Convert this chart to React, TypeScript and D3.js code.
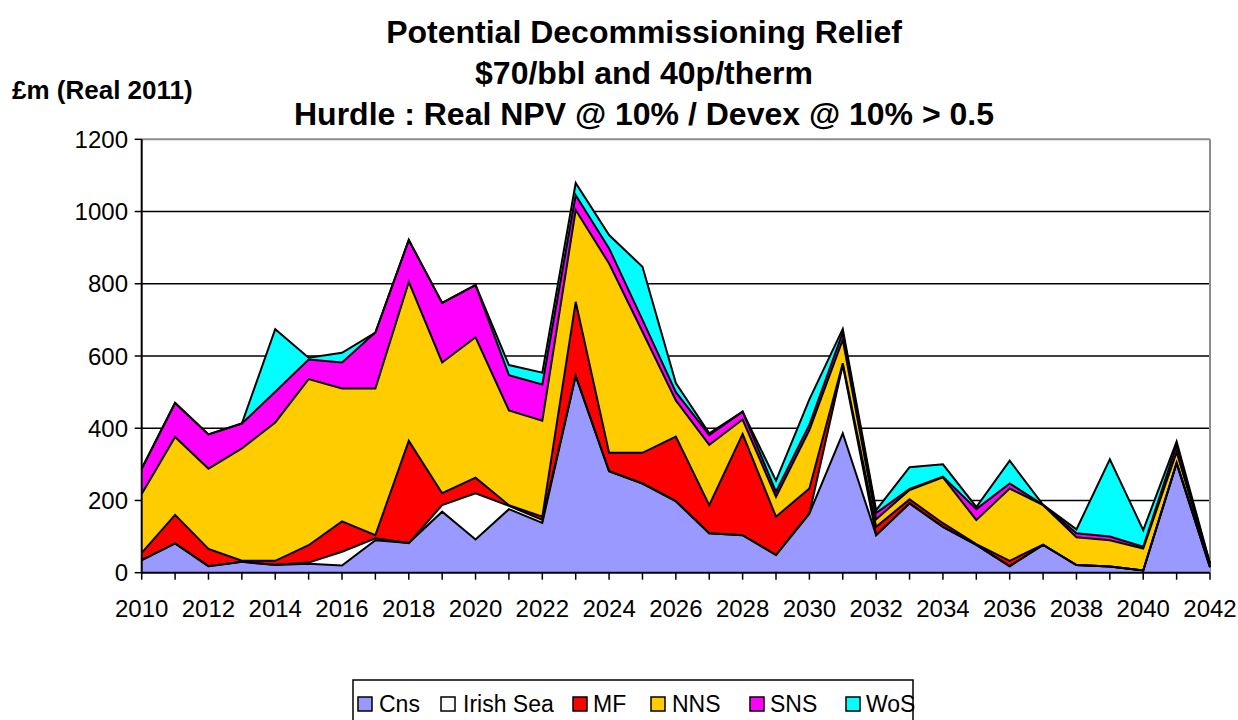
import React from "react";
import * as d3 from "d3";

const years: number[] = d3.range(2010, 2043);
const seriesNames: string[] = ["Cns", "Irish Sea", "MF", "NNS", "SNS", "WoS"];
const seriesColors: string[] = ["#9999FF", "#FFFFFF", "#FF0000", "#FFCC00", "#FF00FF", "#00FFFF"];

const cns: number[] = [35, 81, 18, 30, 21, 25, 20, 90, 82, 169, 92, 176, 138, 545, 281, 247, 198, 109, 104, 49, 164, 386, 104, 192, 127, 77, 18, 77, 21, 17, 6, 303, 15];
const irishSea: number[] = [0, 0, 0, 0, 1, 3, 38, 5, 0, 18, 128, 9, 8, 0, 0, 0, 0, 0, 0, 0, 0, 189, 0, 0, 0, 0, 0, 0, 0, 0, 0, 0, 0];
const mf: number[] = [20, 79, 48, 3, 11, 48, 84, 9, 283, 33, 43, 2, 9, 205, 51, 85, 179, 78, 280, 106, 69, 5, 23, 11, 10, 2, 15, 1, 0, 0, 0, 2, 1];
const nns: number[] = [163, 216, 222, 311, 383, 460, 368, 406, 440, 362, 389, 262, 266, 254, 524, 335, 100, 167, 40, 55, 162, 65, 21, 26, 127, 67, 200, 109, 77, 73, 61, 29, 6];
const sns: number[] = [70, 94, 95, 69, 85, 54, 72, 155, 116, 165, 144, 98, 100, 41, 42, 33, 23, 27, 22, 14, 15, 20, 17, 3, 2, 30, 14, 1, 11, 10, 5, 19, 2];
const wos: number[] = [0, 0, 0, 0, 173, 5, 27, 0, 0, 0, 1, 28, 33, 34, 37, 147, 25, 5, 0, 31, 70, 10, 8, 60, 34, 6, 63, 0, 11, 214, 46, 10, 2];

const yTicks: number[] = [0, 200, 400, 600, 800, 1000, 1200];
const xLabelYears: number[] = d3.range(2010, 2043, 2);
const titleLines: string[] = [
  "Potential Decommissioning Relief",
  "$70/bbl and 40p/therm",
  "Hurdle : Real NPV @ 10% / Devex @ 10% > 0.5",
];
const yUnitLabel = "£m (Real 2011)";

const FONT = "'Liberation Sans', Arial, sans-serif";

export default function App() {
  const W = 1238;
  const H = 720;
  const left = 141.7;
  const right = 1210;
  const top = 139.3;
  const bottom = 572.7;

  const x = d3.scaleLinear().domain([2010, 2042]).range([left, right]);
  const y = d3.scaleLinear().domain([0, 1200]).range([bottom, top]);

  const allSeries = [cns, irishSea, mf, nns, sns, wos];
  const rows = years.map((yr, i) => {
    const r: Record<string, number> = { year: yr };
    seriesNames.forEach((n, k) => (r[n] = allSeries[k][i]));
    return r;
  });
  const stacked = d3.stack<Record<string, number>>().keys(seriesNames)(rows);

  const area = d3
    .area<d3.SeriesPoint<Record<string, number>>>()
    .x((d) => x(d.data.year))
    .y0((d) => y(d[0]))
    .y1((d) => y(d[1]));

  const topLine = d3
    .line<d3.SeriesPoint<Record<string, number>>>()
    .x((d) => x(d.data.year))
    .y((d) => y(d[1]));

  const legendItems = [
    { sx: 358, tx: 379 },
    { sx: 441, tx: 463 },
    { sx: 573, tx: 593 },
    { sx: 651, tx: 672 },
    { sx: 750, tx: 770 },
    { sx: 846, tx: 866 },
  ];

  return (
    <svg
      width={W}
      height={H}
      style={{ position: "absolute", left: 0, top: 0, background: "#fff" }}
      fontFamily={FONT}
    >
      <rect x={0} y={0} width={W} height={H} fill="#fff" />
      {yTicks.slice(1, -1).map((t) => (
        <line key={t} x1={left} x2={right} y1={y(t)} y2={y(t)} stroke="#000" strokeWidth={1.5} />
      ))}
      <line x1={left} x2={right} y1={top} y2={top} stroke="#8c8c8c" strokeWidth={2} />
      <line x1={right} x2={right} y1={top} y2={bottom} stroke="#8c8c8c" strokeWidth={2} />

      {stacked.map((s, k) => (
        <path key={s.key} d={area(s) || ""} fill={seriesColors[k]} stroke="none" />
      ))}
      {stacked.map((s) => (
        <path
          key={s.key + "l"}
          d={topLine(s) || ""}
          fill="none"
          stroke="#000"
          strokeWidth={2}
          strokeLinejoin="miter"
        />
      ))}

      <line x1={left} x2={left} y1={top} y2={bottom} stroke="#000" strokeWidth={2} />
      <line x1={left} x2={right} y1={bottom} y2={bottom} stroke="#000" strokeWidth={2} />
      {yTicks.map((t) => (
        <g key={"yt" + t}>
          <line x1={left - 7} x2={left} y1={y(t)} y2={y(t)} stroke="#000" strokeWidth={1.5} />
          <text x={128} y={y(t) + 8.5} textAnchor="end" fontSize={24} fill="#000">
            {t}
          </text>
        </g>
      ))}
      {years.map((yr) => (
        <line key={"xt" + yr} x1={x(yr)} x2={x(yr)} y1={bottom} y2={bottom + 7} stroke="#000" strokeWidth={1.5} />
      ))}
      {xLabelYears.map((yr) => (
        <text key={"xl" + yr} x={x(yr)} y={617} textAnchor="middle" fontSize={24} fill="#000">
          {yr}
        </text>
      ))}

      {titleLines.map((t, i) => (
        <text
          key={t}
          x={644}
          y={43 + i * 41}
          textAnchor="middle"
          fontSize={32}
          fontWeight="bold"
          fill="#000"
        >
          {t}
        </text>
      ))}
      <text x={12} y={99} fontSize={26} fontWeight="bold" fill="#000">
        {yUnitLabel}
      </text>

      <rect x={353} y={680} width={560} height={42} fill="#fff" stroke="#000" strokeWidth={1.5} />
      {seriesNames.map((n, k) => (
        <g key={"lg" + n}>
          <rect
            x={legendItems[k].sx}
            y={697}
            width={14}
            height={14}
            fill={seriesColors[k]}
            stroke="#000"
            strokeWidth={1.5}
          />
          <text x={legendItems[k].tx} y={712} fontSize={23} fill="#000">
            {n}
          </text>
        </g>
      ))}
    </svg>
  );
}
